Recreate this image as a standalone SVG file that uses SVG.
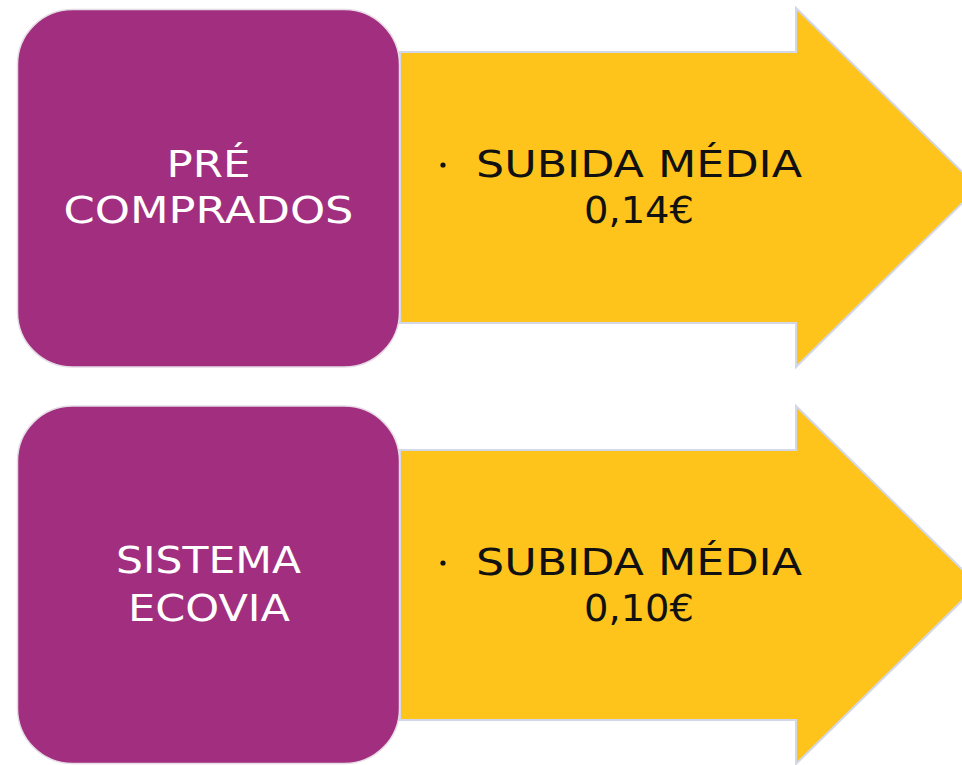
<svg xmlns="http://www.w3.org/2000/svg" width="962" height="765" viewBox="0 0 962 765">
<style>
.box{fill:#A12E7E;stroke:#E6DCE6;stroke-width:1.5}
.arrow{fill:#FEC41B;stroke:#D3D8E8;stroke-width:2;stroke-linejoin:miter}
.lbl{font-family:"DejaVu Sans","Liberation Sans",sans-serif;font-size:38px;fill:#FFFFFF;text-anchor:middle}
.val{font-family:"DejaVu Sans","Liberation Sans",sans-serif;font-size:38px;fill:#111111}
.bul{fill:#111111}
</style>
<rect width="962" height="765" fill="#FFFFFF"/>
<g id="connectors">
<path id="arrow1" class="arrow" d="M400,52 H796 V8 L978,187.5 L796,367 V323 H400 Z"/>
<path id="arrow2" class="arrow" d="M400,450 H796 V406 L978,585 L796,764 V720 H400 Z"/>
</g>
<g id="node-precomprados">
<rect class="box" x="17.5" y="9.5" width="382" height="357.5" rx="55" ry="55"/>
<text class="lbl" x="208.5" y="177" textLength="84" lengthAdjust="spacingAndGlyphs">PRÉ</text>
<text class="lbl" x="208.5" y="223" textLength="290" lengthAdjust="spacingAndGlyphs">COMPRADOS</text>
</g>
<g id="node-precomprados-value">
<circle class="bul" cx="443" cy="165" r="2.6"/>
<text class="val" x="476" y="177" textLength="326" lengthAdjust="spacingAndGlyphs">SUBIDA MÉDIA</text>
<text class="val" x="584" y="223" textLength="110" lengthAdjust="spacingAndGlyphs">0,14€</text>
</g>
<g id="node-ecovia">
<rect class="box" x="17.5" y="406" width="382" height="357.5" rx="55" ry="55"/>
<text class="lbl" x="208.5" y="573" textLength="185" lengthAdjust="spacingAndGlyphs">SISTEMA</text>
<text class="lbl" x="209" y="621" textLength="162" lengthAdjust="spacingAndGlyphs">ECOVIA</text>
</g>
<g id="node-ecovia-value">
<circle class="bul" cx="443" cy="563" r="2.6"/>
<text class="val" x="476" y="575" textLength="326" lengthAdjust="spacingAndGlyphs">SUBIDA MÉDIA</text>
<text class="val" x="584" y="621" textLength="110" lengthAdjust="spacingAndGlyphs">0,10€</text>
</g>
</svg>
